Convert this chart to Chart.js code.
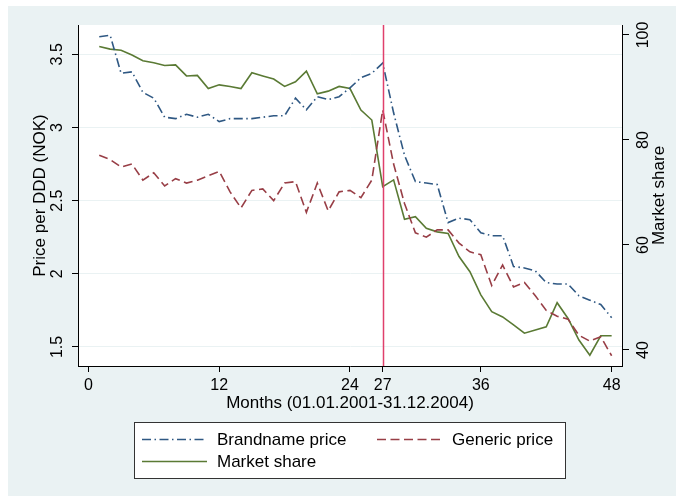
<!DOCTYPE html>
<html lang="en">
<head>
    <meta charset="UTF-8">
    <title>Brandname and generic price per DDD</title>
    <script src="https://cdn.jsdelivr.net/npm/chart.js"></script>
    <style>
        body { margin: 0; background: #fff; }
        canvas { display: block; }
    </style>
</head>
<body>
    <canvas id="priceChart" width="676" height="496"></canvas>
    <script>
        const months = [1, 2, 3, 4, 5, 6, 7, 8, 9, 10, 11, 12, 13, 14, 15, 16, 17, 18, 19, 20, 21, 22, 23, 24,
                        25, 26, 27, 28, 29, 30, 31, 32, 33, 34, 35, 36, 37, 38, 39, 40, 41, 42, 43, 44, 45, 46, 47, 48];
        const brandPrice = [3.62, 3.63, 3.37, 3.38, 3.24, 3.20, 3.07, 3.06, 3.09, 3.07, 3.09, 3.04,
                            3.06, 3.06, 3.06, 3.07, 3.08, 3.08, 3.20, 3.12, 3.21, 3.19, 3.21, 3.27,
                            3.34, 3.37, 3.44, 3.10, 2.81, 2.63, 2.62, 2.61, 2.35, 2.38, 2.37, 2.28,
                            2.26, 2.26, 2.05, 2.04, 2.02, 1.94, 1.93, 1.93, 1.85, 1.82, 1.79, 1.70];
        const genericPrice = [2.81, 2.78, 2.73, 2.75, 2.64, 2.69, 2.60, 2.65, 2.62, 2.64, 2.67, 2.70,
                              2.56, 2.45, 2.57, 2.58, 2.50, 2.62, 2.63, 2.42, 2.62, 2.43, 2.56, 2.57,
                              2.52, 2.64, 3.12, 2.75, 2.48, 2.28, 2.25, 2.30, 2.30, 2.21, 2.15, 2.13,
                              1.92, 2.06, 1.91, 1.94, 1.85, 1.75, 1.71, 1.69, 1.58, 1.54, 1.57, 1.44];
        const marketShare = [97.8, 97.3, 97.1, 96.2, 95.1, 94.7, 94.2, 94.3, 92.2, 92.3, 89.8, 90.5,
                             90.2, 89.8, 92.8, 92.2, 91.6, 90.2, 91.1, 93.1, 88.8, 89.3, 90.2, 89.8,
                             85.7, 83.8, 71.1, 72.4, 64.9, 65.4, 63.2, 62.5, 62.2, 57.8, 54.9, 50.5,
                             47.3, 46.3, 44.8, 43.2, 43.8, 44.4, 49.0, 46.0, 41.9, 39.0, 42.7, 42.7];
        const xTicks = [0, 12, 24, 27, 36, 48];
        const priceTicks = [1.5, 2, 2.5, 3, 3.5];
        const shareTicks = [40, 60, 80, 100];
        const cutoffMonth = 27;

        const FONT = "'Liberation Sans', Arial, sans-serif";
        const bgColor = '#eaf2f3';

        function points(values) {
            return months.map((m, i) => ({x: m, y: values[i]}));
        }

        function vText(ctx, text, x, y) {
            ctx.save();
            ctx.translate(x, y);
            ctx.rotate(-Math.PI / 2);
            ctx.fillText(text, 0, 0);
            ctx.restore();
        }

        // stata style background, white plot region
        const backdrop = {
            id: 'backdrop',
            beforeDraw(chart) {
                const {ctx, chartArea: a} = chart;
                ctx.save();
                ctx.fillStyle = '#fff';
                ctx.fillRect(0, 0, chart.width, chart.height);
                ctx.fillStyle = bgColor;
                ctx.fillRect(8, 6, chart.width - 8, chart.height - 6);
                ctx.fillStyle = '#fff';
                ctx.fillRect(a.left, a.top, a.right - a.left, a.bottom - a.top);
                ctx.restore();
            }
        };

        const cutoffLine = {
            id: 'cutoffLine',
            afterDatasetsDraw(chart) {
                const {ctx, chartArea: a, scales} = chart;
                const x = Math.round(scales.x.getPixelForValue(cutoffMonth)) + 0.5;
                ctx.save();
                ctx.strokeStyle = '#e0406c';
                ctx.lineWidth = 1.5;
                ctx.beginPath();
                ctx.moveTo(x, a.top);
                ctx.lineTo(x, a.bottom);
                ctx.stroke();
                ctx.restore();
            }
        };

        // rotated y labels, axis titles and the boxed legend
        const annotations = {
            id: 'annotations',
            afterDraw(chart) {
                const {ctx, chartArea: a, scales} = chart;
                ctx.save();
                ctx.fillStyle = '#000';
                ctx.textAlign = 'center';
                ctx.textBaseline = 'alphabetic';

                ctx.font = '16px ' + FONT;
                priceTicks.forEach(v => vText(ctx, String(v), 62, scales.y.getPixelForValue(v)));
                shareTicks.forEach(v => vText(ctx, String(v), 648, scales.y1.getPixelForValue(v)));

                ctx.font = '17px ' + FONT;
                const midY = (a.top + a.bottom) / 2;
                vText(ctx, 'Price per DDD (NOK)', 44.5, midY);
                vText(ctx, 'Market share', 664, midY);
                ctx.fillText('Months (01.01.2001-31.12.2004)', (a.left + a.right) / 2, 407.5);

                // legend
                ctx.fillStyle = '#fff';
                ctx.fillRect(134.5, 422.5, 431, 56);
                ctx.strokeStyle = '#333';
                ctx.lineWidth = 1;
                ctx.strokeRect(134.5, 422.5, 431, 56);

                const slots = [
                    {x: 142, y: 439.5, tx: 217, base: 445},
                    {x: 377, y: 439.5, tx: 452, base: 445},
                    {x: 142, y: 461.5, tx: 217, base: 467}
                ];
                ctx.textAlign = 'left';
                chart.data.datasets.forEach((ds, i) => {
                    const s = slots[i];
                    ctx.strokeStyle = ds.borderColor;
                    ctx.lineWidth = 1.5;
                    ctx.setLineDash(ds.borderDash || []);
                    ctx.beginPath();
                    ctx.moveTo(s.x, s.y);
                    ctx.lineTo(s.x + 65, s.y);
                    ctx.stroke();
                    ctx.setLineDash([]);
                    ctx.fillStyle = '#000';
                    ctx.fillText(ds.label, s.tx, s.base);
                });
                ctx.restore();
            }
        };

        const ctx = document.getElementById('priceChart').getContext('2d');
        new Chart(ctx, {
            type: 'line',
            data: {
                datasets: [{
                    label: 'Brandname price',
                    data: points(brandPrice),
                    yAxisID: 'y',
                    borderColor: '#2f5883',
                    borderWidth: 1.6,
                    borderDash: [9, 3.5, 1.5, 3.5],
                    pointRadius: 0,
                    fill: false
                }, {
                    label: 'Generic price',
                    data: points(genericPrice),
                    yAxisID: 'y',
                    borderColor: '#983e46',
                    borderWidth: 1.6,
                    borderDash: [9, 4.5],
                    pointRadius: 0,
                    fill: false
                }, {
                    label: 'Market share',
                    data: points(marketShare),
                    yAxisID: 'y1',
                    borderColor: '#5a7a34',
                    borderWidth: 1.6,
                    pointRadius: 0,
                    fill: false
                }]
            },
            options: {
                responsive: false,
                animation: false,
                layout: { padding: { top: 25, left: 0, right: 0, bottom: 0 } },
                plugins: {
                    legend: { display: false },
                    title: { display: false },
                    tooltip: { enabled: false }
                },
                scales: {
                    x: {
                        type: 'linear',
                        min: -0.95,
                        max: 48.95,
                        afterBuildTicks: s => { s.ticks = xTicks.map(v => ({value: v})); },
                        afterFit: s => { s.height = 130; },
                        grid: { drawOnChartArea: false, tickLength: 6, tickColor: '#000' },
                        border: { color: '#000', width: 1 },
                        ticks: {
                            autoSkip: false,
                            maxRotation: 0,
                            padding: 4,
                            color: '#000',
                            font: { family: FONT, size: 16 }
                        }
                    },
                    y: {
                        position: 'left',
                        min: 1.37,
                        max: 3.70,
                        afterBuildTicks: s => { s.ticks = priceTicks.map(v => ({value: v})); },
                        afterFit: s => { s.width = 78; },
                        grid: { color: bgColor, tickColor: '#000', tickLength: 6 },
                        border: { color: '#000', width: 1 },
                        ticks: { display: false }
                    },
                    y1: {
                        position: 'right',
                        min: 36.95,
                        max: 101.9,
                        afterBuildTicks: s => { s.ticks = shareTicks.map(v => ({value: v})); },
                        afterFit: s => { s.width = 54; },
                        grid: { drawOnChartArea: false, tickColor: '#000', tickLength: 7 },
                        border: { color: '#000', width: 1 },
                        ticks: { display: false }
                    }
                }
            },
            plugins: [backdrop, cutoffLine, annotations]
        });
    </script>
</body>
</html>
